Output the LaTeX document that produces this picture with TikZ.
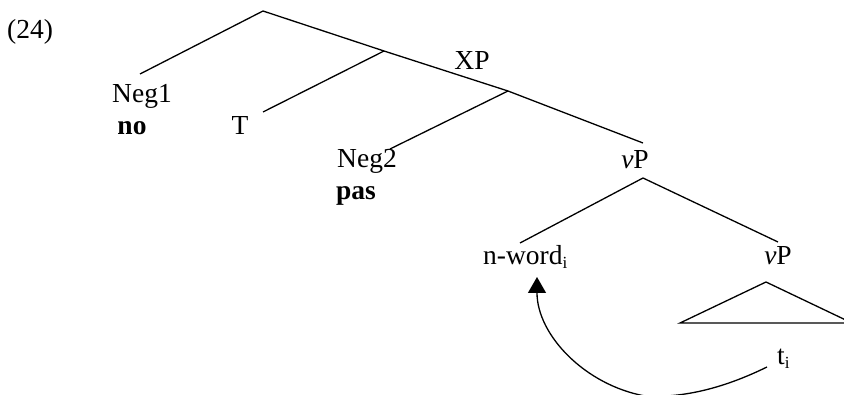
\documentclass[tikz,border=0pt]{standalone}
\usepackage{fontspec}
\setmainfont{Liberation Serif}
\usetikzlibrary{arrows.meta}

\newcommand{\sbi}{\raisebox{-0.3ex}{\fontsize{17}{17}\selectfont i}}

\begin{document}
\begin{tikzpicture}[x=1pt,y=-1pt,
  branch/.style={line width=1.3pt},
  lbl/.style={inner sep=0pt,anchor=base,font=\fontsize{27.5}{32}\selectfont},
  lblw/.style={lbl,anchor=base west},
  move/.style={line width=1.3pt,-{Triangle[length=16pt,width=18pt]}}]
\useasboundingbox (0,0) rectangle (844,395);
\clip (0,0) rectangle (844,395);

% labels
\node[lblw] (ex)    at (7,39)    {(24)};
\node[lbl]  (neg1)  at (142,103) {Neg1};
\node[lbl]  (no)    at (132,135) {\textbf{no}};
\node[lbl]  (t)     at (240,135) {T};
\node[lbl]  (xp)    at (472,70)  {XP};
\node[lbl]  (neg2)  at (367,168) {Neg2};
\node[lbl]  (pas)   at (356,200) {\textbf{pas}};
\node[lbl]  (vpa)   at (635,169) {\textit{v}P};
\node[lblw] (nword) at (483,265) {n-word\sbi};
\node[lbl]  (vpb)   at (778,265) {\textit{v}P};
\node[lblw] (trace) at (777,365) {t\sbi};

% branch points and branch ends
\coordinate (root)  at (263,11);
\coordinate (j1)    at (384,51);
\coordinate (j2)    at (508,91);
\coordinate (eneg1) at (140,74);
\coordinate (et)    at (263,112);
\coordinate (eneg2) at (390,149);
\coordinate (evpa)  at (643,143);
\coordinate (vtop)  at (643,178);
\coordinate (enw)   at (520,243);
\coordinate (evpb)  at (778,242);
\coordinate (tapex) at (766,282);
\coordinate (tleft) at (680,323);
\coordinate (tright) at (852,323);

\draw[branch] (eneg1) -- (root) -- (j1) -- (j2) -- (evpa);
\draw[branch] (et) -- (j1);
\draw[branch] (eneg2) -- (j2);
\draw[branch] (enw) -- (vtop) -- (evpb);
\draw[branch] (tapex) -- (tleft) -- (tright) -- cycle;

% movement arrow from the trace to the n-word
\coordinate (mstart) at (767,367);
\coordinate (mlow)   at (645,396);
\coordinate (mtip)   at (537,277);
\draw[move] (mstart) .. controls (720,390) and (680,398) .. (mlow)
  .. controls (585,385) and (537,335) .. (mtip);
\end{tikzpicture}
\end{document}
